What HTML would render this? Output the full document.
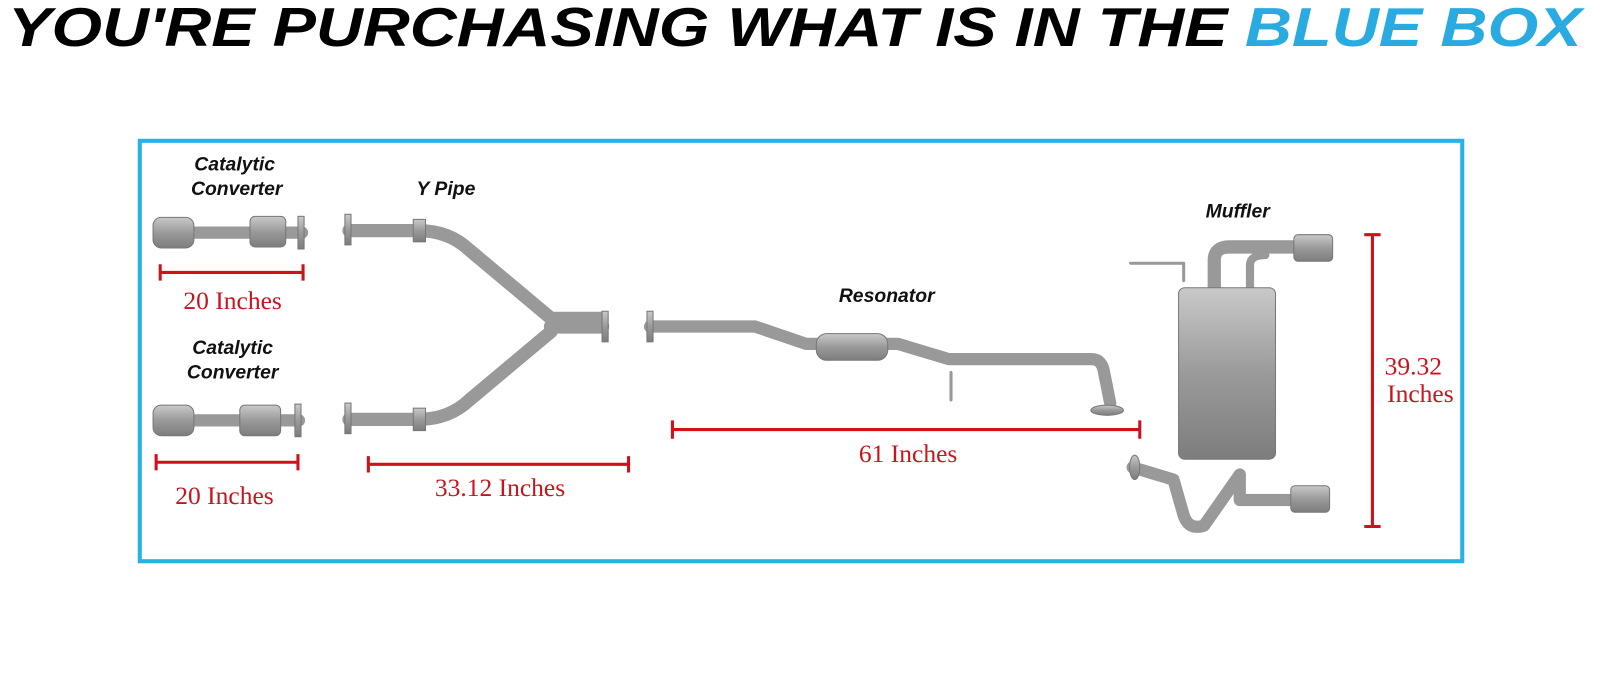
<!DOCTYPE html>
<html><head><meta charset="utf-8"><style>
html,body{margin:0;padding:0;background:#fff;width:1600px;height:685px;overflow:hidden}
svg{display:block}
.lbl{font-family:"Liberation Sans",sans-serif;font-weight:bold;font-style:italic;font-size:19px;fill:#111}
.red{font-family:"Liberation Serif",serif;font-size:25px;fill:#c8141e}
</style></head><body>
<svg width="1600" height="685" viewBox="0 0 1600 685" xmlns="http://www.w3.org/2000/svg">
<defs>
<linearGradient id="pg" x1="0" y1="0" x2="0" y2="1"><stop offset="0" stop-color="#c9c9c9"/><stop offset=".5" stop-color="#9a9a9a"/><stop offset="1" stop-color="#7d7d7d"/></linearGradient>
</defs>
<g transform="scale(1.0204)">
<text x="8" y="45" font-family="Liberation Sans,sans-serif" font-weight="bold" font-style="italic" font-size="54" textLength="1195" lengthAdjust="spacingAndGlyphs" fill="#000">YOU'RE PURCHASING WHAT IS IN THE</text>
<text x="1220" y="45" font-family="Liberation Sans,sans-serif" font-weight="bold" font-style="italic" font-size="54" textLength="330" lengthAdjust="spacingAndGlyphs" fill="#29abe2">BLUE BOX</text>
<rect x="137" y="138" width="1296" height="412" fill="#fff" stroke="#29b0e6" stroke-width="4"/>
<g fill="none" stroke="#999" stroke-linecap="round" stroke-linejoin="round">
<path d="M158 228 H296" stroke-width="12"/>
<path d="M158 412 H293" stroke-width="12"/>
<path d="M342 226 H410 Q440 226 460 245 L540 312 H590" stroke-width="13"/>
<path d="M342 411 H410 Q440 411 460 392 L540 325" stroke-width="13"/>
<path d="M540 320 H590" stroke-width="14"/>
<path d="M637 320 H740 L790 337 H880 L930 352 H1070 Q1080 352 1082 365 L1088 395" stroke-width="12"/>
<path d="M932 365 V392" stroke-width="3"/>
<path d="M1190 285 V255 Q1190 242 1205 242 H1275" stroke-width="13"/>
<path d="M1225 285 V260 Q1225 250 1240 250" stroke-width="8"/>
<path d="M1110 458 L1150 470 L1160 505 Q1165 520 1180 515 L1215 465 V490 H1275" stroke-width="12"/>
<path d="M1108 258 H1160 V275" stroke-width="3"/>
</g>
<g fill="url(#pg)" stroke="#777" stroke-width="1">
<rect x="150" y="213" width="40" height="30" rx="8"/>
<rect x="245" y="212" width="35" height="30" rx="5"/>
<rect x="292" y="212" width="6" height="32"/>
<rect x="150" y="397" width="40" height="30" rx="8"/>
<rect x="235" y="397" width="40" height="30" rx="5"/>
<rect x="289" y="396" width="6" height="32"/>
<rect x="338" y="210" width="6" height="30"/>
<rect x="338" y="395" width="6" height="30"/>
<rect x="405" y="215" width="12" height="22"/>
<rect x="405" y="400" width="12" height="22"/>
<rect x="590" y="305" width="6" height="30"/>
<rect x="634" y="305" width="6" height="30"/>
<rect x="800" y="327" width="70" height="26" rx="10"/>
<ellipse cx="1085" cy="402" rx="16" ry="5"/>
<rect x="1155" y="282" width="95" height="168" rx="6"/>
<rect x="1268" y="230" width="38" height="26" rx="4"/>
<rect x="1265" y="476" width="38" height="26" rx="4"/>
<ellipse cx="1112" cy="458" rx="5" ry="12"/>
</g>
<g stroke="#d0101a" stroke-width="3" fill="none">
<path d="M157 267 H297 M157 259 V275 M297 259 V275"/>
<path d="M153 453 H292 M153 445 V461 M292 445 V461"/>
<path d="M361 455 H616 M361 447 V463 M616 447 V463"/>
<path d="M659 421 H1117 M659 412 V430 M1117 412 V430"/>
<path d="M1345 230 V516 M1337 230 H1353 M1337 516 H1353"/>
</g>
<text class="lbl" x="230" y="167" text-anchor="middle">Catalytic</text>
<text class="lbl" x="232" y="191" text-anchor="middle">Converter</text>
<text class="lbl" x="437" y="191" text-anchor="middle">Y Pipe</text>
<text class="lbl" x="869" y="296" text-anchor="middle">Resonator</text>
<text class="lbl" x="1213" y="213" text-anchor="middle">Muffler</text>
<text class="lbl" x="228" y="347" text-anchor="middle">Catalytic</text>
<text class="lbl" x="228" y="371" text-anchor="middle">Converter</text>
<text class="red" x="228" y="303" text-anchor="middle">20 Inches</text>
<text class="red" x="220" y="494" text-anchor="middle">20 Inches</text>
<text class="red" x="490" y="486" text-anchor="middle">33.12 Inches</text>
<text class="red" x="890" y="453" text-anchor="middle">61 Inches</text>
<text class="red" x="1385" y="367" text-anchor="middle" font-size="22">39.32</text>
<text class="red" x="1392" y="394" text-anchor="middle" font-size="22">Inches</text>
</g>
</svg>
</body></html>
